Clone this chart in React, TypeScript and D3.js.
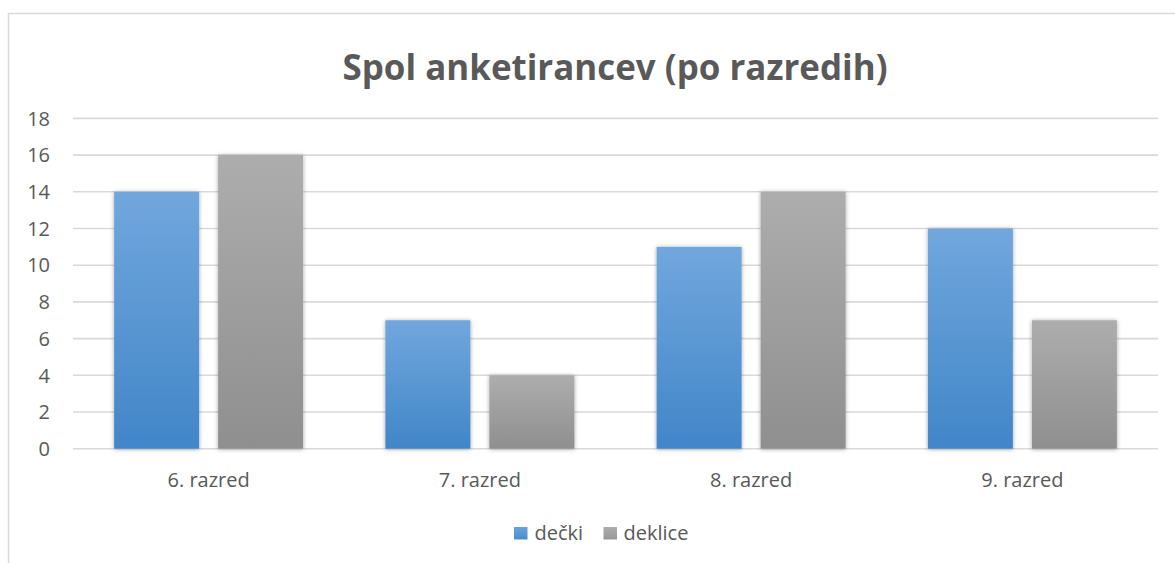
import React from "react";
import * as d3 from "d3";

const categories = ["6. razred", "7. razred", "8. razred", "9. razred"];
const seriesNames = ["dečki", "deklice"];
const decki = [14, 7, 11, 12];
const deklice = [16, 4, 14, 7];
const yTicks = [0, 2, 4, 6, 8, 10, 12, 14, 16, 18];
const title = "Spol anketirancev (po razredih)";

const W = 1175;
const H = 563;
const plotLeft = 73;
const plotRight = 1158;
const plotTop = 118.4;
const plotBottom = 448.7;
const textColor = "#595959";
const font = "'Open Sans', sans-serif";

export default function App() {
  const x0 = d3.scaleBand<string>().domain(categories).range([plotLeft, plotRight]).padding(0);
  const x1 = d3
    .scaleBand<string>()
    .domain(seriesNames)
    .range([0, x0.bandwidth()])
    .paddingInner(0.1827)
    .paddingOuter(0.3955);
  const y = d3.scaleLinear().domain([0, 18]).range([plotBottom, plotTop]);
  const values = [decki, deklice];
  const fills = ["url(#gBlue)", "url(#gGray)"];

  return (
    <svg
      width={W}
      height={H}
      style={{ position: "absolute", left: 0, top: 0, background: "#fff" }}
    >
      <defs>
        <linearGradient id="gBlue" x1="0" y1="0" x2="0" y2="1">
          <stop offset="0%" stopColor="#71a7dd" />
          <stop offset="100%" stopColor="#4186c8" />
        </linearGradient>
        <linearGradient id="gGray" x1="0" y1="0" x2="0" y2="1">
          <stop offset="0%" stopColor="#adadad" />
          <stop offset="100%" stopColor="#8f8f8f" />
        </linearGradient>
        <linearGradient id="lBlue" x1="0" y1="0" x2="0" y2="1">
          <stop offset="0%" stopColor="#6aa3da" />
          <stop offset="100%" stopColor="#4a8ecd" />
        </linearGradient>
        <linearGradient id="lGray" x1="0" y1="0" x2="0" y2="1">
          <stop offset="0%" stopColor="#adadad" />
          <stop offset="100%" stopColor="#979797" />
        </linearGradient>
        <filter id="shadow" x="-20%" y="-20%" width="140%" height="140%">
          <feDropShadow dx="0" dy="0.5" stdDeviation="2.2" floodColor="#000" floodOpacity="0.35" />
        </filter>
      </defs>
      <rect x={8.5} y={13.5} width={2000} height={2000} fill="#fff" stroke="#d9d9d9" strokeWidth={1.5} />
      <text
        x={615}
        y={79.5}
        textAnchor="middle"
        fontFamily={font}
        fontWeight="bold"
        fontSize={36}
        fill={textColor}
        textLength={545}
        lengthAdjust="spacingAndGlyphs"
      >
        {title}
      </text>
      {yTicks.map((t) => (
        <g key={t}>
          <line x1={plotLeft} x2={plotRight} y1={y(t)} y2={y(t)} stroke="#d9d9d9" strokeWidth={1.6} />
          <text
            x={50}
            y={y(t)}
            dy="0.36em"
            textAnchor="end"
            fontFamily={font}
            fontSize={20}
            fill={textColor}
          >
            {t}
          </text>
        </g>
      ))}
      {categories.map((c, i) => (
        <g key={c} transform={`translate(${x0(c)},0)`}>
          {seriesNames.map((s, j) => (
            <rect
              key={s}
              x={x1(s)}
              y={y(values[j][i])}
              width={x1.bandwidth()}
              height={y(0) - y(values[j][i])}
              fill={fills[j]}
              filter="url(#shadow)"
            />
          ))}
          <text
            x={x0.bandwidth() / 2}
            y={487}
            textAnchor="middle"
            fontFamily={font}
            fontSize={20}
            fill={textColor}
          >
            {c}
          </text>
        </g>
      ))}
      <g>
        <rect x={514} y={527} width={13.5} height={12.5} fill="url(#lBlue)" />
        <text x={534.5} y={540} fontFamily={font} fontSize={20} fill={textColor}>
          {seriesNames[0]}
        </text>
        <rect x={603.5} y={527} width={13.5} height={12.5} fill="url(#lGray)" />
        <text x={623.5} y={540} fontFamily={font} fontSize={20} fill={textColor}>
          {seriesNames[1]}
        </text>
      </g>
    </svg>
  );
}
